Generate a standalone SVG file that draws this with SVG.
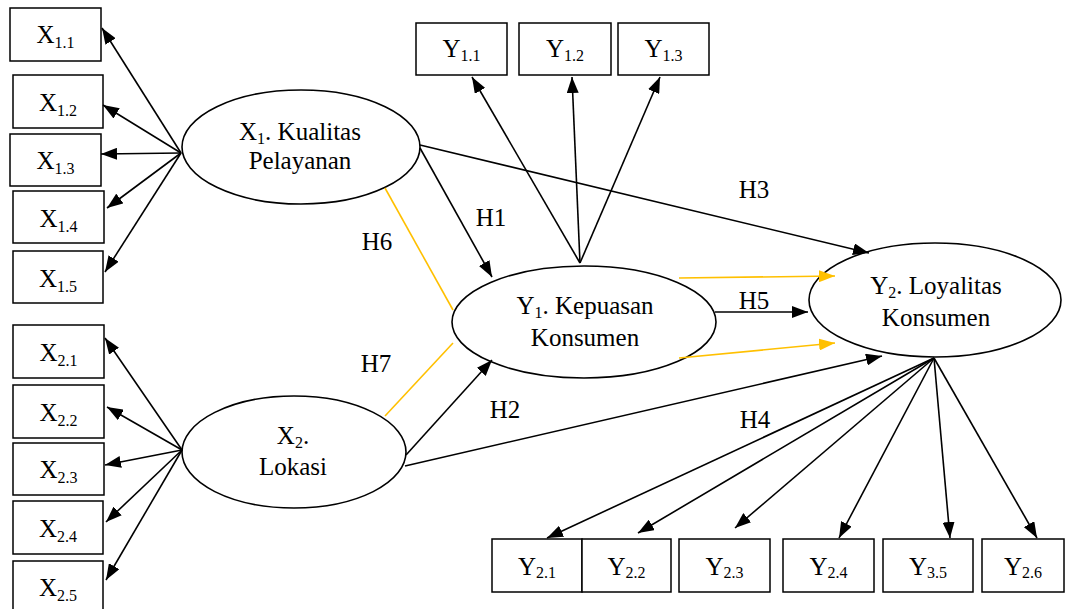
<svg xmlns="http://www.w3.org/2000/svg" width="1068" height="609" viewBox="0 0 1068 609">
<style>
.box{fill:#fff;stroke:#000;stroke-width:1.5}
.ell{fill:#fff;stroke:#000;stroke-width:1.6}
text{font-family:'Liberation Serif','DejaVu Serif','Times New Roman',serif;font-size:25px;fill:#000;text-anchor:middle}
.s{font-size:16px}
.c{stroke:#000;stroke-width:1.6;fill:none}
.o{stroke:#FFC000;stroke-width:1.6;fill:none}
.a{marker-end:url(#ah)}
.ao{marker-end:url(#aho)}
</style>
<defs>
<marker id="ah" markerUnits="userSpaceOnUse" markerWidth="16" markerHeight="12" refX="16" refY="6" orient="auto"><path d="M0,0 L16,6 L0,12 z" fill="#000"/></marker>
<marker id="aho" markerUnits="userSpaceOnUse" markerWidth="16" markerHeight="12" refX="16" refY="6" orient="auto"><path d="M0,0 L16,6 L0,12 z" fill="#FFC000"/></marker>
</defs>
<rect width="1068" height="609" fill="#fff"/>
<g id="X1">
<ellipse class="ell" cx="301" cy="147" rx="119" ry="57"/>
<text x="300" y="140" font-family="Liberation Serif, serif">X<tspan class="s" dy="4">1</tspan><tspan dy="-4">. Kualitas</tspan></text>
<text x="300" y="169" font-family="Liberation Serif, serif">Pelayanan</text>
</g>
<g id="X2">
<ellipse class="ell" cx="294" cy="452" rx="112" ry="56"/>
<text x="293" y="444">X<tspan class="s" dy="4">2</tspan><tspan dy="-4">.</tspan></text>
<text x="293" y="475">Lokasi</text>
</g>
<g id="Y1">
<ellipse class="ell" cx="584" cy="322" rx="132" ry="56"/>
<text x="585" y="314">Y<tspan class="s" dy="4">1</tspan><tspan dy="-4">. Kepuasan</tspan></text>
<text x="585" y="346">Konsumen</text>
</g>
<g id="Y2">
<ellipse class="ell" cx="935" cy="300" rx="126" ry="57"/>
<text x="936" y="294">Y<tspan class="s" dy="4">2</tspan><tspan dy="-4">. Loyalitas</tspan></text>
<text x="936" y="326">Konsumen</text>
</g>
<g id="X1_1"><rect class="box" x="10" y="8" width="91" height="53"/><text x="55.5" y="43">X<tspan class="s" dy="5">1.1</tspan></text></g>
<g id="X1_2"><rect class="box" x="13" y="75" width="90" height="53"/><text x="58" y="111">X<tspan class="s" dy="5">1.2</tspan></text></g>
<g id="X1_3"><rect class="box" x="10" y="134" width="91" height="52"/><text x="55.5" y="169">X<tspan class="s" dy="5">1.3</tspan></text></g>
<g id="X1_4"><rect class="box" x="13" y="191" width="91" height="52"/><text x="58.5" y="227">X<tspan class="s" dy="5">1.4</tspan></text></g>
<g id="X1_5"><rect class="box" x="13" y="251" width="90" height="52"/><text x="58" y="287">X<tspan class="s" dy="5">1.5</tspan></text></g>
<g id="X2_1"><rect class="box" x="13" y="325" width="91" height="53"/><text x="58.5" y="361">X<tspan class="s" dy="5">2.1</tspan></text></g>
<g id="X2_2"><rect class="box" x="13" y="385" width="91" height="53"/><text x="58.5" y="421">X<tspan class="s" dy="5">2.2</tspan></text></g>
<g id="X2_3"><rect class="box" x="13" y="443" width="91" height="52"/><text x="58.5" y="478">X<tspan class="s" dy="5">2.3</tspan></text></g>
<g id="X2_4"><rect class="box" x="13" y="501" width="90" height="53"/><text x="58" y="537">X<tspan class="s" dy="5">2.4</tspan></text></g>
<g id="X2_5"><rect class="box" x="13" y="561" width="90" height="60"/><text x="58" y="596">X<tspan class="s" dy="5">2.5</tspan></text></g>
<g id="Y1_1"><rect class="box" x="416" y="23" width="91" height="52"/><text x="461.5" y="57">Y<tspan class="s" dy="4">1.1</tspan></text></g>
<g id="Y1_2"><rect class="box" x="519" y="23" width="92" height="52"/><text x="565" y="57">Y<tspan class="s" dy="4">1.2</tspan></text></g>
<g id="Y1_3"><rect class="box" x="618" y="23" width="91" height="52"/><text x="663.5" y="57">Y<tspan class="s" dy="4">1.3</tspan></text></g>
<g id="Y2_1"><rect class="box" x="492" y="539" width="90" height="53"/><text x="537" y="575">Y<tspan class="s" dy="3">2.1</tspan></text></g>
<g id="Y2_2"><rect class="box" x="582" y="539" width="89" height="53"/><text x="626.5" y="575">Y<tspan class="s" dy="3">2.2</tspan></text></g>
<g id="Y2_3"><rect class="box" x="679" y="539" width="91" height="53"/><text x="724.5" y="575">Y<tspan class="s" dy="3">2.3</tspan></text></g>
<g id="Y2_4"><rect class="box" x="783" y="539" width="91" height="53"/><text x="828.5" y="575">Y<tspan class="s" dy="3">2.4</tspan></text></g>
<g id="Y3_5"><rect class="box" x="883" y="539" width="90" height="53"/><text x="928" y="575">Y<tspan class="s" dy="3">3.5</tspan></text></g>
<g id="Y2_6"><rect class="box" x="982" y="539" width="82" height="53"/><text x="1023" y="575">Y<tspan class="s" dy="3">2.6</tspan></text></g>
<g id="connectors">
<line class="c a" x1="181" y1="153" x2="102" y2="28"/>
<line class="c a" x1="181" y1="153" x2="103" y2="105"/>
<line class="c a" x1="181" y1="153" x2="101" y2="154"/>
<line class="c a" x1="181" y1="153" x2="107" y2="208"/>
<line class="c a" x1="181" y1="153" x2="105" y2="272"/>
<line class="c a" x1="182" y1="450" x2="105" y2="338"/>
<line class="c a" x1="182" y1="450" x2="107" y2="407"/>
<line class="c a" x1="182" y1="450" x2="105" y2="465"/>
<line class="c a" x1="182" y1="450" x2="106" y2="522"/>
<line class="c a" x1="182" y1="450" x2="106" y2="580"/>
<line class="c a" x1="580" y1="263" x2="472" y2="77"/>
<line class="c a" x1="580" y1="263" x2="572" y2="77"/>
<line class="c a" x1="580" y1="263" x2="660" y2="77"/>
<line class="c a" x1="934" y1="358" x2="547" y2="538"/>
<line class="c a" x1="934" y1="358" x2="638" y2="533"/>
<line class="c a" x1="934" y1="358" x2="735" y2="528"/>
<line class="c a" x1="934" y1="358" x2="839" y2="538"/>
<line class="c a" x1="934" y1="358" x2="950" y2="538"/>
<line class="c a" x1="934" y1="358" x2="1037" y2="538"/>
<line class="c a" x1="420" y1="148" x2="492" y2="277"/>
<line class="c a" x1="420" y1="145" x2="869" y2="253"/>
<line class="c a" x1="406" y1="455" x2="492" y2="360"/>
<line class="c a" x1="405" y1="466" x2="882" y2="356"/>
<line class="c a" x1="715" y1="312" x2="808" y2="312"/>
<line class="o ao" x1="679" y1="278" x2="835" y2="276"/>
<line class="o ao" x1="679" y1="358" x2="835" y2="343"/>
<line class="o" x1="385" y1="188" x2="453" y2="310"/>
<line class="o" x1="385" y1="416" x2="453" y2="343"/>
<text x="491" y="226">H1</text>
<text x="505" y="418">H2</text>
<text x="754" y="198">H3</text>
<text x="755" y="428">H4</text>
<text x="754" y="309">H5</text>
<text x="377" y="250">H6</text>
<text x="376" y="372">H7</text>
</g>
</svg>
